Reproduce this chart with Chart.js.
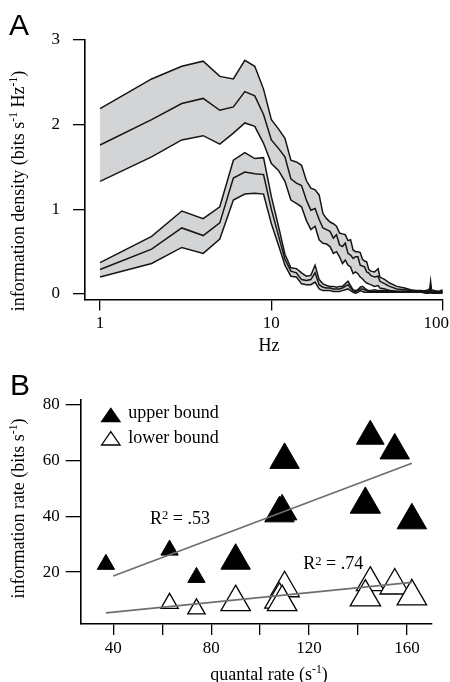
<!DOCTYPE html>
<html><head><meta charset="utf-8">
<script src="https://cdn.jsdelivr.net/npm/chart.js@4/dist/chart.umd.min.js"></script>
<style>
html,body{margin:0;padding:0;background:#fff;width:450px;height:682px;overflow:hidden}
canvas{position:absolute;left:0;top:0}
</style></head>
<body>
<canvas id="chartA" width="450" height="682"></canvas>
<canvas id="chartB" width="450" height="682"></canvas>
<script>
// ---------- Panel A data ----------
const freqHz = [1,2,3,4,5,6,7,8,9,10,11,12,13,14,15,16,17,18,19,20,21,22,23,24,25,26,27,28,29,30,31,32,33,34,35,36,37,38,40,42,43,46,49,54,60,65,70,75,80,84,85,86,90,95,100];
const upperHi  = [2.19,2.54,2.69,2.75,2.57,2.54,2.76,2.69,2.42,2.06,1.95,1.84,1.58,1.56,1.52,1.34,1.25,1.23,1.17,0.95,0.89,0.85,0.83,0.80,0.72,0.71,0.70,0.63,0.64,0.52,0.50,0.50,0.49,0.41,0.39,0.38,0.29,0.27,0.26,0.30,0.20,0.17,0.13,0.09,0.07,0.05,0.04,0.04,0.03,0.03,0.05,0.03,0.03,0.03,0.03];
const upperMid = [1.76,2.06,2.25,2.31,2.17,2.21,2.39,2.34,2.12,1.82,1.72,1.62,1.36,1.31,1.28,1.11,0.99,1.01,0.88,0.78,0.76,0.74,0.66,0.70,0.58,0.56,0.60,0.48,0.46,0.42,0.44,0.44,0.34,0.33,0.32,0.26,0.25,0.22,0.20,0.21,0.15,0.12,0.09,0.06,0.05,0.04,0.03,0.03,0.02,0.02,0.04,0.02,0.02,0.02,0.02];
const upperLo  = [1.33,1.62,1.82,1.87,1.77,1.90,2.02,1.98,1.78,1.54,1.46,1.33,1.11,1.07,1.03,0.87,0.76,0.80,0.64,0.60,0.59,0.56,0.48,0.50,0.44,0.36,0.40,0.34,0.32,0.24,0.26,0.24,0.20,0.18,0.15,0.13,0.12,0.11,0.09,0.10,0.07,0.06,0.04,0.03,0.03,0.02,0.02,0.02,0.01,0.01,0.02,0.01,0.01,0.01,0.01];
const lowerHi  = [0.37,0.68,0.98,0.89,1.03,1.58,1.67,1.60,1.61,1.15,0.80,0.47,0.31,0.30,0.25,0.21,0.22,0.34,0.17,0.12,0.10,0.09,0.09,0.08,0.09,0.09,0.12,0.15,0.10,0.05,0.04,0.05,0.08,0.09,0.07,0.05,0.04,0.04,0.05,0.04,0.04,0.04,0.04,0.03,0.03,0.03,0.03,0.03,0.04,0.06,0.15,0.05,0.04,0.03,0.05];
const lowerMid = [0.29,0.53,0.78,0.69,0.84,1.37,1.44,1.42,1.41,1.00,0.69,0.41,0.27,0.25,0.17,0.16,0.17,0.25,0.11,0.08,0.07,0.07,0.06,0.06,0.06,0.07,0.09,0.11,0.07,0.04,0.03,0.04,0.06,0.06,0.05,0.04,0.03,0.03,0.03,0.03,0.03,0.03,0.03,0.03,0.03,0.03,0.03,0.03,0.03,0.04,0.10,0.03,0.03,0.02,0.03];
const lowerLo  = [0.20,0.36,0.55,0.48,0.65,1.11,1.18,1.19,1.18,0.83,0.58,0.34,0.21,0.20,0.12,0.11,0.11,0.14,0.06,0.04,0.04,0.04,0.03,0.03,0.03,0.04,0.05,0.06,0.04,0.02,0.01,0.02,0.04,0.03,0.02,0.02,0.02,0.02,0.02,0.02,0.02,0.02,0.02,0.02,0.02,0.02,0.02,0.02,0.02,0.02,0.06,0.02,0.02,0.01,0.02];
const hzTicks = [1, 10, 100];
const densityTicks = [0, 1, 2, 3];

// ---------- Panel B data ----------
const quantalRate = [37, 63, 74, 90, 110, 107.9, 109, 145, 155, 143, 162];
const upperRate   = [22.8, 27.9, 18.1, 24.1, 60.3, 41.1, 41.8, 68.8, 63.7, 44.3, 38.6];
const lowerRate   = [null, 8.8, 6.8, 9.2, 14.2, 10.1, 9.2, 16.2, 15.2, 11.0, 11.3];
const markerRadius = [10, 10, 10, 17, 17, 17, 17, 16, 17, 17.5, 17];
const upperFitX = [40, 162], upperFitY = [18.6, 59.1];
const lowerFitX = [37, 162], lowerFitY = [5.4, 16.3];
const quantalTicks = [40, 60, 80, 100, 120, 140, 160];
const rateTicks = [20, 40, 60, 80];

const SERIF = "'Liberation Serif','Times New Roman',serif";
const SANS = "'Liberation Sans',Arial,sans-serif";
Chart.defaults.font.family = SERIF;
Chart.defaults.color = '#000';

function pts(xs, ys) { return xs.map((x, i) => ({x: x, y: ys[i]})); }

function richText(ctx, parts, x, y, size, align, angle, supScale, supRise) {
  ctx.save();
  ctx.translate(x, y);
  if (angle) ctx.rotate(angle);
  let total = 0;
  const segs = parts.map(([t, sup]) => {
    const fs = sup ? size * supScale : size;
    ctx.font = fs + 'px ' + SERIF;
    const w = ctx.measureText(t).width;
    total += w;
    return {t, sup, fs, w};
  });
  let cx = align === 'center' ? -total / 2 : 0;
  ctx.fillStyle = '#000';
  ctx.textBaseline = 'alphabetic';
  ctx.textAlign = 'left';
  segs.forEach(s => {
    ctx.font = s.fs + 'px ' + SERIF;
    ctx.fillText(s.t, cx, s.sup ? -size * supRise : 0);
    cx += s.w;
  });
  ctx.restore();
}

function axisStyle(tickLen, pad) {
  return {
    grid: {display: true, drawOnChartArea: false, drawTicks: true, tickLength: tickLen,
           color: '#000', tickColor: '#000', tickWidth: 1.3, lineWidth: 1.3},
    border: {display: true, color: '#000', width: 1.6},
    ticks: {color: '#000', font: {family: SERIF, size: 17}, padding: pad, maxRotation: 0, autoSkip: false}
  };
}

// ---------- Chart A ----------
const bandFill = '#d3d4d6';
const lineStyle = {borderColor: '#151515', borderWidth: 1.5, pointRadius: 0, tension: 0};
const xA = axisStyle(11, 3);
const yA = axisStyle(12, 13);
new Chart(document.getElementById('chartA'), {
  type: 'line',
  data: {
    datasets: [
      Object.assign({label: 'upper bound high', data: pts(freqHz, upperHi), fill: '+2', backgroundColor: bandFill}, lineStyle),
      Object.assign({label: 'upper bound', data: pts(freqHz, upperMid), fill: false}, lineStyle),
      Object.assign({label: 'upper bound low', data: pts(freqHz, upperLo), fill: false}, lineStyle),
      Object.assign({label: 'lower bound high', data: pts(freqHz, lowerHi), fill: '+2', backgroundColor: bandFill}, lineStyle),
      Object.assign({label: 'lower bound', data: pts(freqHz, lowerMid), fill: false}, lineStyle),
      Object.assign({label: 'lower bound low', data: pts(freqHz, lowerLo), fill: false}, lineStyle)
    ]
  },
  options: {
    responsive: false, animation: false, devicePixelRatio: 1,
    layout: {padding: {top: 40, left: 0, right: 7.3, bottom: 332.5}},
    plugins: {legend: {display: false}, tooltip: {enabled: false}, filler: {drawTime: 'beforeDatasetsDraw'}},
    scales: {
      x: Object.assign({}, xA, {
        type: 'logarithmic', min: 0.817, max: 100,
        afterBuildTicks: s => { s.ticks = hzTicks.map(v => ({value: v})); },
        // last label nudged left (trailing spaces) so it stays inside the page, as in the reference
        ticks: Object.assign({}, xA.ticks, {callback: v => (v === 100 ? '100\u00a0\u00a0\u00a0' : String(v))}),
        afterFit: s => { s.height = 50; s.paddingLeft = 0; s.paddingRight = 0; }
      }),
      y: Object.assign({}, yA, {
        type: 'linear', min: -0.065, max: 3,
        afterBuildTicks: s => { s.ticks = densityTicks.map(v => ({value: v})); },
        ticks: Object.assign({}, yA.ticks, {callback: v => String(v)}),
        afterFit: s => { s.width = 85; }
      })
    }
  },
  plugins: [{
    id: 'textA',
    afterDraw(chart) {
      const ctx = chart.ctx;
      ctx.save();
      ctx.font = '30px ' + SANS; ctx.fillStyle = '#000'; ctx.textBaseline = 'alphabetic';
      ctx.fillText('A', 9, 35);
      ctx.restore();
      richText(ctx, [['Hz', 0]], 269, 351, 18, 'center', 0, 0.65, 0.4);
      richText(ctx, [['information density (bits s', 0], ['-1', 1], [' Hz', 0], ['-1', 1], [')', 0]],
               24, 191, 18, 'center', -Math.PI / 2, 0.65, 0.4);
    }
  }]
});

// ---------- Chart B ----------
const xB = axisStyle(11, 3);
const yB = axisStyle(15, 6);
const fitStyle = {type: 'line', borderColor: '#6e6e6e', borderWidth: 1.8, pointRadius: 0, fill: false};
new Chart(document.getElementById('chartB'), {
  type: 'scatter',
  data: {
    datasets: [
      Object.assign({label: 'upper fit', data: pts(upperFitX, upperFitY)}, fitStyle),
      Object.assign({label: 'lower fit', data: pts(lowerFitX, lowerFitY)}, fitStyle),
      {label: 'upper bound', data: pts(quantalRate, upperRate), pointStyle: 'triangle',
       pointRadius: markerRadius, backgroundColor: '#000', borderColor: '#000', borderWidth: 1, clip: false},
      {label: 'lower bound', data: pts(quantalRate, lowerRate), pointStyle: 'triangle',
       pointRadius: markerRadius, backgroundColor: '#fff', borderColor: '#000', borderWidth: 1.3, clip: false}
    ]
  },
  options: {
    responsive: false, animation: false, devicePixelRatio: 1,
    layout: {padding: {top: 400, left: 0, right: 8.3, bottom: 0}},
    plugins: {legend: {display: false}, tooltip: {enabled: false}},
    scales: {
      x: Object.assign({}, xB, {
        type: 'linear', min: 26.7, max: 169.9,
        afterBuildTicks: s => { s.ticks = quantalTicks.map(v => ({value: v})); },
        ticks: Object.assign({}, xB.ticks, {callback: v => (v % 40 === 0 ? String(v) : '')}),
        afterFit: s => { s.height = 58; s.paddingLeft = 0; s.paddingRight = 0; }
      }),
      y: Object.assign({}, yB, {
        type: 'linear', min: 1.37, max: 81.8,
        afterBuildTicks: s => { s.ticks = rateTicks.map(v => ({value: v})); },
        ticks: Object.assign({}, yB.ticks, {callback: v => String(v)}),
        afterFit: s => { s.width = 80.7; }
      })
    }
  },
  plugins: [{
    id: 'textB',
    afterDraw(chart) {
      const ctx = chart.ctx;
      ctx.save();
      ctx.font = '30px ' + SANS; ctx.fillStyle = '#000'; ctx.textBaseline = 'alphabetic';
      ctx.fillText('B', 10, 395);
      // legend glyphs
      ctx.lineWidth = 1.3; ctx.strokeStyle = '#000';
      ctx.beginPath(); ctx.moveTo(110.8, 408.3); ctx.lineTo(120, 421.7); ctx.lineTo(101.6, 421.7); ctx.closePath();
      ctx.fillStyle = '#000'; ctx.fill(); ctx.stroke();
      ctx.beginPath(); ctx.moveTo(110.8, 431.7); ctx.lineTo(120, 445); ctx.lineTo(101.6, 445); ctx.closePath();
      ctx.fillStyle = '#fff'; ctx.fill(); ctx.stroke();
      ctx.restore();
      richText(ctx, [['upper bound', 0]], 128.3, 418.3, 18, 'left', 0, 0.65, 0.4);
      richText(ctx, [['lower bound', 0]], 128.3, 442.7, 18, 'left', 0, 0.65, 0.4);
      richText(ctx, [['R', 0], ['2', 1], [' = .53', 0]], 150, 523.5, 18, 'left', 0, 0.7, 0.25);
      richText(ctx, [['R', 0], ['2', 1], [' = .74', 0]], 303.3, 569.3, 18, 'left', 0, 0.7, 0.25);
      richText(ctx, [['quantal rate (s', 0], ['-1', 1], [')', 0]], 269, 680, 18, 'center', 0, 0.65, 0.4);
      richText(ctx, [['information rate (bits s', 0], ['-1', 1], [')', 0]],
               24, 508.5, 18, 'center', -Math.PI / 2, 0.65, 0.4);
    }
  }]
});
</script>
</body></html>
